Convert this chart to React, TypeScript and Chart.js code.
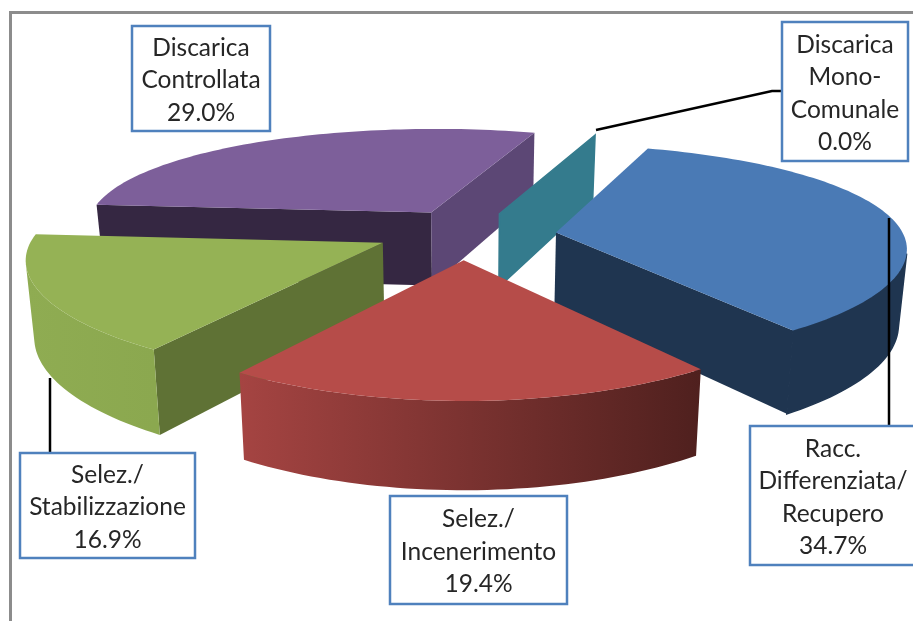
import React, { useEffect, useRef } from "react";
import { Chart, registerables } from "chart.js";

Chart.register(...registerables);

const categories = ["Racc. Differenziata/ Recupero", "Selez./ Incenerimento", "Selez./ Stabilizzazione", "Discarica Controllata", "Discarica Mono-Comunale"];
const labelLines = [
  ["Racc.", "Differenziata/", "Recupero"],
  ["Selez./", "Incenerimento"],
  ["Selez./", "Stabilizzazione"],
  ["Discarica", "Controllata"],
  ["Discarica", "Mono-", "Comunale"],
];
const shares = [34.7, 19.4, 16.9, 29.0, 0.0];
const topColors = ["#4A7AB5", "#B64C49", "#95B255", "#7D5F9A", "#347B8D"];

// wall shading for each slice
const startFace = ["#1F3550", "#8A3A38", "#5F7235", "#352742", "#347B8D"];
const endFace = ["#1F3550", "#8A3A38", "#5F7235", "#5C4775", "#347B8D"];
const rimFrom = ["#1F3550", "#4F201E", "#8BA84F", "#352742", "#347B8D"];
const rimTo = ["#1F3550", "#A54442", "#8FAC52", "#352742", "#347B8D"];
const paintOrder = [3, 4, 0, 2, 1];

// per-slice screen nudge, to follow the original's uneven perspective
const nudges = [[2, 0], [-13, -1], [-19, -4], [-1, -4], [-1, 0]];

// callout boxes [left, top, right, bottom]
const boxes = [
  [750, 426, 916, 565],
  [390, 496, 567, 604],
  [20, 453, 195, 558],
  [132, 26, 270, 131],
  [782, 22, 908, 161],
];
const leaders = [
  [[889, 218], [889, 426]],
  [],
  [[50, 378], [50, 453]],
  [],
  [[596, 130], [772, 91], [782, 91]],
];

const view = { cx: 475, cy: 236, rx: 348, ry: 105, dx: 0.13, dy: 0.18, depth: 75, shrink: 0.98 };

const project = (u: number, v: number, low: boolean, n: number[]) => {
  const px = 1 / (1 - v * view.dx);
  const py = 1 / (1 - v * view.dy);
  const x = view.cx + n[0] + (u * view.rx * px) * (low ? view.shrink : 1);
  const y = view.cy + n[1] + v * view.ry * py + (low ? view.depth * px : 0);
  return [x, y];
};

const fillPoly = (ctx: CanvasRenderingContext2D, pts: number[][], color: any, seal = false) => {
  ctx.beginPath();
  pts.forEach((p, i) => (i ? ctx.lineTo(p[0], p[1]) : ctx.moveTo(p[0], p[1])));
  ctx.closePath();
  ctx.fillStyle = color;
  ctx.fill();
  if (seal) {
    ctx.strokeStyle = color;
    ctx.lineWidth = 1.5;
    ctx.stroke();
  }
};

const area = (pts: number[][]) => {
  let s = 0;
  pts.forEach((p, i) => {
    const q = pts[(i + 1) % pts.length];
    s += p[0] * q[1] - q[0] * p[1];
  });
  return s;
};

const pie3d = {
  id: "pie3d",
  beforeDatasetsDraw(chart: any) {
    const ctx: CanvasRenderingContext2D = chart.ctx;
    const arcs = chart.getDatasetMeta(0).data;
    ctx.save();
    paintOrder.forEach((i) => {
      const arc = arcs[i];
      const n = nudges[i];
      const a0 = arc.startAngle, a1 = arc.endAngle, mid = (a0 + a1) / 2;
      const e = arc.options.offset / 4 / arc.outerRadius;
      const ou = e * Math.cos(mid), ov = e * Math.sin(mid);
      const steps = Math.max(1, Math.ceil((a1 - a0) / 0.025));
      const rim: number[][] = [];
      for (let s = 0; s <= steps; s++) {
        const a = a0 + ((a1 - a0) * s) / steps;
        rim.push([ou + Math.cos(a), ov + Math.sin(a)]);
      }
      const hi = (p: number[]) => project(p[0], p[1], false, n);
      const lo = (p: number[]) => project(p[0], p[1], true, n);
      const wall = (p: number[], q: number[]) => [hi(p), hi(q), lo(q), lo(p)];
      const apex = [ou, ov];
      const f0 = wall(apex, rim[0]);
      const f1 = wall(rim[steps], apex);
      if (area(f0) < 0) fillPoly(ctx, f0, startFace[i], a1 === a0);
      if (area(f1) < 0) fillPoly(ctx, f1, endFace[i], a1 === a0);
      // outer wall: the stretch of the rim that faces the viewer
      const seen: number[][] = [];
      for (let s = 0; s < steps; s++) {
        if (area(wall(rim[s], rim[s + 1])) < 0) {
          if (!seen.length) seen.push(rim[s]);
          seen.push(rim[s + 1]);
        }
      }
      if (seen.length > 1) {
        const x0 = hi(seen[0])[0], x1 = hi(seen[seen.length - 1])[0];
        const g = ctx.createLinearGradient(x0, 0, x1, 0);
        g.addColorStop(0, rimFrom[i]);
        g.addColorStop(1, rimTo[i]);
        fillPoly(ctx, [...seen.map(hi), ...seen.slice().reverse().map(lo)], g, rimFrom[i] === rimTo[i]);
      }
      if (a1 > a0) fillPoly(ctx, [hi(apex), ...rim.map(hi)], arc.options.backgroundColor);
    });
    ctx.restore();
    return false;
  },
  afterDraw(chart: any) {
    const ctx: CanvasRenderingContext2D = chart.ctx;
    ctx.save();
    // frame
    ctx.strokeStyle = "#8C8C8C";
    ctx.lineWidth = 3;
    ctx.beginPath();
    ctx.moveTo(10.5, 621);
    ctx.lineTo(10.5, 12.5);
    ctx.lineTo(913, 12.5);
    ctx.stroke();
    // leaders
    ctx.strokeStyle = "#000000";
    ctx.lineWidth = 2.5;
    leaders.forEach((pts) => {
      if (!pts.length) return;
      ctx.beginPath();
      pts.forEach((p, i) => (i ? ctx.lineTo(p[0], p[1]) : ctx.moveTo(p[0], p[1])));
      ctx.stroke();
    });
    // callouts
    ctx.font = "24.5px Lato";
    ctx.textAlign = "center";
    ctx.textBaseline = "middle";
    boxes.forEach((b, i) => {
      ctx.fillStyle = "#FFFFFF";
      ctx.fillRect(b[0], b[1], b[2] - b[0], b[3] - b[1]);
      ctx.strokeStyle = "#4F81BD";
      ctx.lineWidth = 2.5;
      ctx.strokeRect(b[0], b[1], b[2] - b[0], b[3] - b[1]);
      const lines = [...labelLines[i], `${shares[i].toFixed(1)}%`];
      const mx = (b[0] + b[2]) / 2;
      const my = (b[1] + b[3]) / 2 + 2;
      ctx.fillStyle = "#262626";
      lines.forEach((t, j) => ctx.fillText(t, mx, my + (j - (lines.length - 1) / 2) * 32.5));
    });
    ctx.restore();
  },
};

export default function App() {
  const ref = useRef<HTMLCanvasElement>(null);
  useEffect(() => {
    const chart = new Chart(ref.current!, {
      type: "pie",
      data: {
        labels: categories,
        datasets: [{ data: shares, backgroundColor: topColors, borderWidth: 0, offset: 196 }],
      },
      options: {
        responsive: false,
        animation: false,
        rotation: 19,
        layout: { padding: 0 },
        plugins: { legend: { display: false }, tooltip: { enabled: false } },
      },
      plugins: [pie3d],
    } as any);
    return () => chart.destroy();
  }, []);
  return (
    <div style={{ position: "absolute", left: 0, top: 0, width: 913, height: 621, overflow: "hidden", background: "#fff" }}>
      <canvas ref={ref} width={913} height={621} style={{ display: "block" }} />
    </div>
  );
}
